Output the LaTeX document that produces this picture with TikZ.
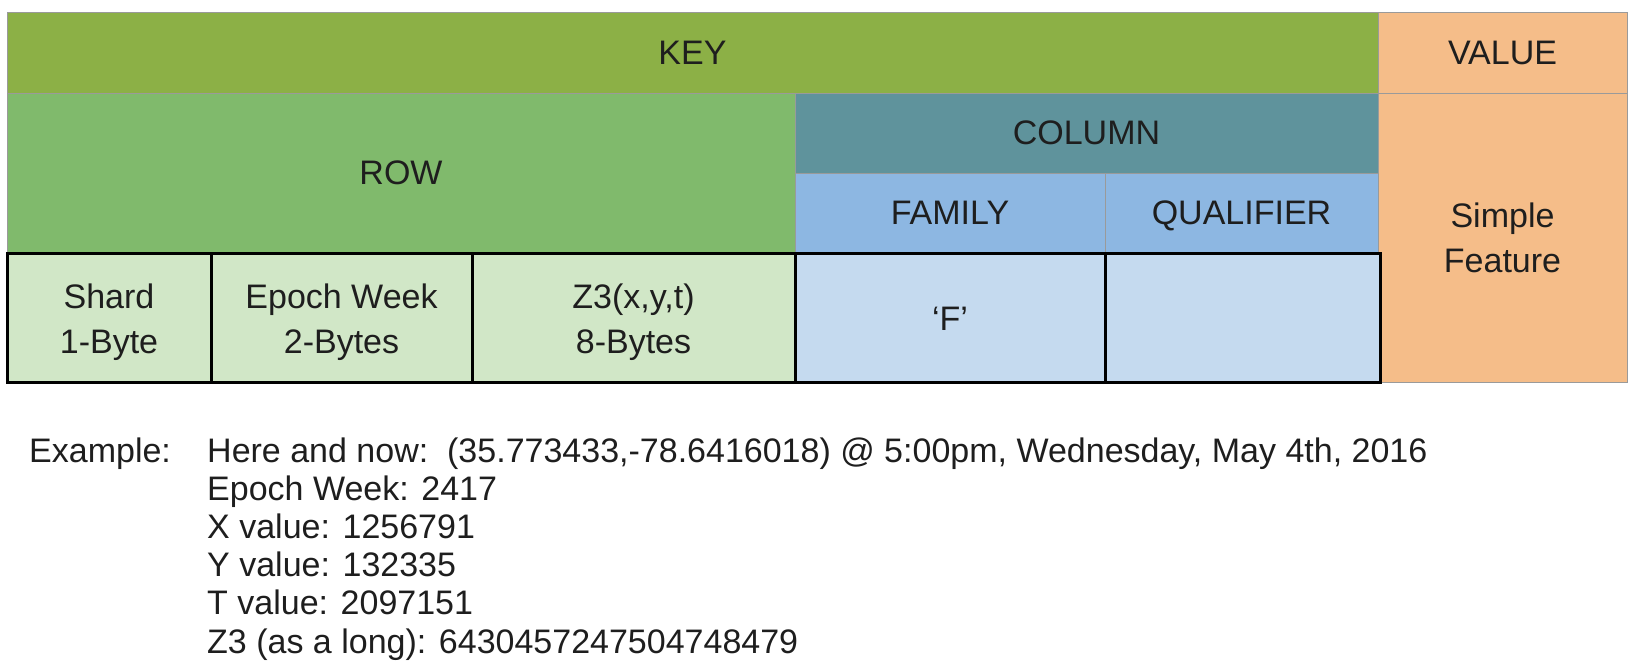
\documentclass[tikz,border=0pt]{standalone}
\usepackage{fontspec}
\setmainfont{Liberation Sans}
\definecolor{keyc}{HTML}{8CB046}
\definecolor{rowc}{HTML}{80BA6C}
\definecolor{colc}{HTML}{5F939C}
\definecolor{famc}{HTML}{8DB7E2}
\definecolor{lgreen}{HTML}{D1E7C7}
\definecolor{lblue}{HTML}{C5DAEF}
\definecolor{valc}{HTML}{F5BD89}
\definecolor{txt}{HTML}{1E1E1E}
\definecolor{thin}{HTML}{9A9A9A}
\tikzset{
  cell/.style={draw=thin, line width=1pt, inner sep=0pt, outer sep=0pt, text=txt, align=center, font=\fontsize{34}{45}\selectfont},
  hdr/.style={cell, text depth=0pt},
  bcell/.style={cell, draw=black, line width=3pt},
  celltext/.style={inner sep=0pt, text=txt, align=center, font=\fontsize{34}{45}\selectfont},
  extext/.style={anchor=base west, inner sep=0pt, text=txt, font=\fontsize{34}{38}\selectfont}
}
\begin{document}
\begin{tikzpicture}[x=1pt,y=-1pt]
\useasboundingbox (0,0) rectangle (1634,672);
% header rows
\node[hdr, fill=keyc, minimum width=1371pt, minimum height=81pt] (key) at (692.5,52.5) {KEY};
\node[hdr, fill=valc, minimum width=249pt, minimum height=81pt] (valh) at (1502.5,52.5) {VALUE};
\node[cell, fill=valc, minimum width=249pt, minimum height=289pt] (valb) at (1502.5,237.5) {Simple\\Feature};
\node[hdr, fill=rowc, minimum width=788pt, minimum height=160pt] (row) at (401,173) {ROW};
\node[hdr, fill=colc, minimum width=583pt, minimum height=80pt] (col) at (1086.5,133) {COLUMN};
\node[hdr, fill=famc, minimum width=310pt, minimum height=80pt] (fam) at (950,213) {FAMILY};
\node[hdr, fill=famc, minimum width=273pt, minimum height=80pt] (qual) at (1241.5,213) {QUALIFIER};
% byte row
\node[bcell, fill=lgreen, minimum width=204pt, minimum height=129pt] (shard) at (109,317.5) {};
\node[bcell, fill=lgreen, minimum width=261pt, minimum height=129pt] (epoch) at (341.5,317.5) {};
\node[bcell, fill=lgreen, minimum width=323pt, minimum height=129pt] (zthree) at (633.5,317.5) {};
\node[bcell, fill=lblue, minimum width=310pt, minimum height=129pt] (ff) at (950,317.5) {};
\node[bcell, fill=lblue, minimum width=275pt, minimum height=129pt] (qq) at (1242.5,317.5) {};
\node[celltext] (shardt) at (shard.center |- 0,322) {Shard\\1-Byte};
\node[celltext] (epocht) at (epoch.center |- 0,322) {Epoch Week\\2-Bytes};
\node[celltext] (zthreet) at (zthree.center |- 0,322) {Z3(x,y,t)\\8-Bytes};
\node[celltext, text depth=0pt] (fft) at (ff.center |- 0,319) {‘F’};
% example
\node[extext] (ex) at (29,462) {Example:};
\node[extext] (l1) at (207,462) {Here and now:\ \ (35.773433,-78.6416018) @ 5:00pm, Wednesday, May 4th, 2016};
\node[extext] (l2) at (207,500.2) {Epoch Week: 2417};
\node[extext] (l3) at (207,538.4) {X value: 1256791};
\node[extext] (l4) at (207,576.6) {Y value: 132335};
\node[extext] (l5) at (207,614.8) {T value: 2097151};
\node[extext] (l6) at (207,653) {Z3 (as a long): 6430457247504748479};
\end{tikzpicture}
\end{document}
